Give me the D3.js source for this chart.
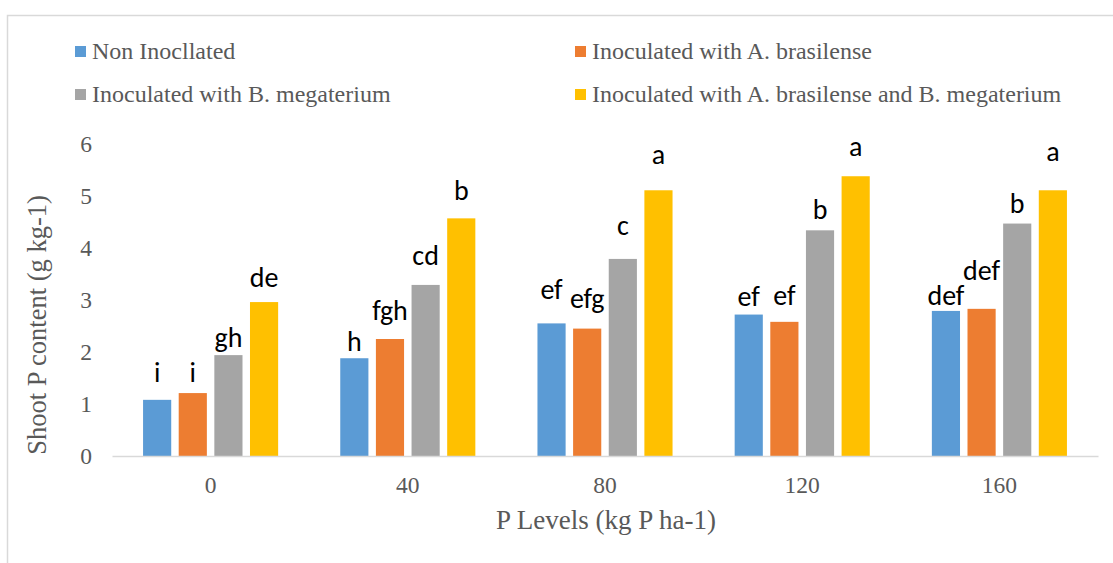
<!DOCTYPE html>
<html>
<head>
<meta charset="utf-8">
<script src="https://cdn.jsdelivr.net/npm/d3@7"></script>
<style>
    body { margin: 0; background: white; }
</style>
</head>
<body>
<div id="canvas"></div>
<script>
"use strict"

/* Data */
let levels = ["0", "40", "80", "120", "160"];
let seriesNames = [
    "Non Inocllated",
    "Inoculated with A. brasilense",
    "Inoculated with B. megaterium",
    "Inoculated with A. brasilense and B. megaterium"
];
let nonInoculated = [1.08, 1.88, 2.55, 2.72, 2.79];
let brasilense = [1.21, 2.25, 2.45, 2.58, 2.83];
let megaterium = [1.94, 3.29, 3.79, 4.34, 4.47];
let combined = [2.96, 4.57, 5.11, 5.38, 5.11];
let letters = [
    ["i", "h", "ef", "ef", "def"],
    ["i", "fgh", "efg", "ef", "def"],
    ["gh", "cd", "c", "b", "b"],
    ["de", "b", "a", "a", "a"]
];
let yTicks = [0, 1, 2, 3, 4, 5, 6];

/* Layout: how high each letter sits above its bar (px), as placed in the original */
let letterLift = [
    [18, 7, 24, 9, 6],
    [11, 19, 21, 17, 29],
    [8, 20, 24, 11, 11],
    [15, 18, 26, 20, 29]
];

let colors = ["#5b9bd5", "#ed7d31", "#a5a5a5", "#ffc000"];
let allSeries = [nonInoculated, brasilense, megaterium, combined];

let serif = "'Liberation Serif', 'Times New Roman', serif";

/* Drawing canvas */
let drawing = d3.select("#canvas")
    .append("svg")
    .attr("width", 1113)
    .attr("height", 563);

/* Outer chart frame */
let frame = drawing.append("rect")
    .attr("x", 7.5)
    .attr("y", 15.5)
    .attr("width", 1200)
    .attr("height", 700)
    .attr("fill", "white")
    .attr("stroke", "#d9d9d9")
    .attr("stroke-width", 1.5);

/* Scales */
let x = d3.scaleBand()
    .domain(levels)
    .range([112, 1098])
    .paddingInner(0.315)
    .paddingOuter(0.1575);

let xInner = d3.scaleBand()
    .domain(d3.range(seriesNames.length))
    .range([0, x.bandwidth()])
    .paddingInner(0.21);

let y = d3.scaleLinear()
    .domain([0, 6])
    .range([456, 144]);

/* Y axis tick labels */
let yAxis = drawing.append("g")
    .attr("transform", "translate(92,0)")
    .call(d3.axisLeft(y).tickValues(yTicks).tickFormat(d3.format("d")).tickSize(0).tickPadding(0));
yAxis.select(".domain").remove();
yAxis.selectAll("text")
    .attr("font-family", serif)
    .attr("font-size", 23.5)
    .attr("fill", "#595959");

/* Bars */
allSeries.forEach(function (values, s) {
    drawing.append("g")
        .selectAll("rect")
        .data(values)
        .join("rect")
        .attr("x", (d, i) => x(levels[i]) + xInner(s))
        .attr("y", d => y(d))
        .attr("width", xInner.bandwidth())
        .attr("height", d => y(0) - y(d))
        .attr("fill", colors[s]);
});

/* Significance letters */
allSeries.forEach(function (values, s) {
    drawing.append("g")
        .selectAll("text")
        .data(values)
        .join("text")
        .attr("x", (d, i) => x(levels[i]) + xInner(s) + xInner.bandwidth() / 2)
        .attr("y", (d, i) => y(d) - letterLift[s][i])
        .attr("text-anchor", "middle")
        .attr("font-family", "Carlito, Lato, sans-serif")
        .attr("font-size", 28)
        .attr("fill", "black")
        .text((d, i) => letters[s][i]);
});

/* X axis line and labels */
let xAxis = drawing.append("g")
    .attr("transform", "translate(0,456)")
    .call(d3.axisBottom(x).tickSize(0).tickPadding(37));
xAxis.select(".domain")
    .attr("stroke", "#d9d9d9")
    .attr("stroke-width", 1.5);
xAxis.selectAll("text")
    .attr("font-family", serif)
    .attr("font-size", 23.5)
    .attr("fill", "#595959")
    .attr("dy", 0);

/* Axis titles */
let xTitle = drawing.append("text")
    .attr("x", 606)
    .attr("y", 529)
    .attr("text-anchor", "middle")
    .attr("font-family", serif)
    .attr("font-size", 27)
    .attr("fill", "#595959")
    .text("P Levels (kg P ha-1)");

let yTitle = drawing.append("text")
    .attr("transform", "translate(46,325) rotate(-90)")
    .attr("text-anchor", "middle")
    .attr("font-family", serif)
    .attr("font-size", 26.5)
    .attr("fill", "#595959")
    .text("Shoot P content (g kg-1)");

/* Legend, two columns */
let legendX = [75, 575];
let legendY = [46, 89];
let legend = drawing.append("g")
    .selectAll("g")
    .data(seriesNames)
    .join("g")
    .attr("transform", (d, i) => "translate(" + legendX[i % 2] + "," + legendY[Math.floor(i / 2)] + ")");

legend.append("rect")
    .attr("width", 11)
    .attr("height", 11)
    .attr("fill", (d, i) => colors[i]);

legend.append("text")
    .attr("x", 17)
    .attr("y", 13)
    .attr("font-family", serif)
    .attr("font-size", 24)
    .attr("fill", "#595959")
    .text(d => d);
</script>
</body>
</html>
